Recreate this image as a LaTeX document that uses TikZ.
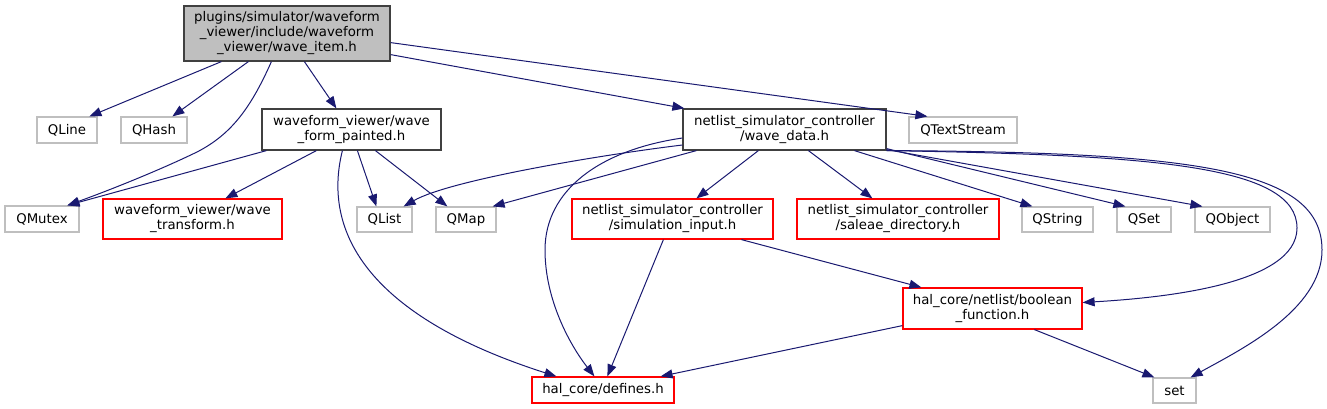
\documentclass[tikz,border=0pt]{standalone}
\usepackage{fontspec}
\setmainfont{DejaVu Sans}
\usetikzlibrary{arrows.meta}
\definecolor{mblue}{RGB}{25,25,112}
\definecolor{lgray}{RGB}{191,191,191}
\definecolor{dgray}{RGB}{64,64,64}
\definecolor{mainfill}{RGB}{191,191,191}
\newcommand\dfont{\fontsize{13.3}{15}\selectfont}
\tikzset{
  box/.style={draw, line width=1.2pt, inner sep=0pt, align=center, font=\dfont, fill=white},
  darkbox/.style={box, draw=dgray},
  graybox/.style={box, draw=lgray},
  redbox/.style={box, draw=red},
  e/.style={draw=mblue, line width=1pt, -{Triangle[length=12pt,width=9pt]}}
}
\begin{document}
\begin{tikzpicture}[x=1pt,y=-1pt]
\useasboundingbox (0,0) rectangle (1327,409);
% nodes
\node[darkbox, fill=mainfill, minimum width=206pt, minimum height=55pt] (main) at (287,33.5)
  {plugins/simulator/waveform\\\_viewer/include/waveform\\\_viewer/wave\_item.h};
\node[graybox, minimum width=60pt, minimum height=26pt] (QLine) at (67,130) {QLine};
\node[graybox, minimum width=66pt, minimum height=26pt] (QHash) at (154,130) {QHash};
\node[darkbox, minimum width=179pt, minimum height=41pt] (painted) at (351.5,129.5) {waveform\_viewer/wave\\\_form\_painted.h};
\node[darkbox, minimum width=203pt, minimum height=41pt] (wd) at (784.5,129.5) {netlist\_simulator\_controller\\/wave\_data.h};
\node[graybox, minimum width=108pt, minimum height=26pt] (QTS) at (963,130) {QTextStream};
\node[graybox, minimum width=74pt, minimum height=26pt] (QMutex) at (42,219) {QMutex};
\node[redbox, minimum width=179pt, minimum height=40pt] (wt) at (192.5,219) {waveform\_viewer/wave\\\_transform.h};
\node[graybox, minimum width=55pt, minimum height=25pt] (QList) at (384.5,219.5) {QList};
\node[graybox, minimum width=60pt, minimum height=25pt] (QMap) at (466,219.5) {QMap};
\node[redbox, minimum width=201pt, minimum height=40pt] (sim) at (672.5,219) {netlist\_simulator\_controller\\/simulation\_input.h};
\node[redbox, minimum width=202pt, minimum height=40pt] (saleae) at (898,219) {netlist\_simulator\_controller\\/saleae\_directory.h};
\node[graybox, minimum width=71pt, minimum height=25pt] (QString) at (1057.5,219.5) {QString};
\node[graybox, minimum width=54pt, minimum height=25pt] (QSet) at (1144,219.5) {QSet};
\node[graybox, minimum width=75pt, minimum height=25pt] (QObject) at (1232.5,219.5) {QObject};
\node[redbox, minimum width=179pt, minimum height=41pt] (boolean) at (992.5,308.5) {hal\_core/netlist/boolean\\\_function.h};
\node[redbox, minimum width=142pt, minimum height=26pt] (defines) at (603,390) {hal\_core/defines.h};
\node[graybox, minimum width=43pt, minimum height=25pt] (set) at (1174.5,390.5) {set};
% edges from main
\draw[e] ([xshift=38pt]main.south west) -- ([xshift=53pt]QLine.north west);
\draw[e] ([xshift=65pt]main.south west) -- ([xshift=52pt]QHash.north west);
\draw[e] ([xshift=88pt]main.south west) .. controls (250,110) and (230,135) .. (197,152)
  .. controls (160,170) and (110,190) .. ([xshift=63pt]QMutex.north west);
\draw[e] ([xshift=121pt]main.south west) -- ([xshift=75pt]painted.north west);
\draw[e] ([yshift=7pt]main.south east) -- ([xshift=2pt]wd.north west);
\draw[e] ([yshift=19pt]main.south east) -- ([xshift=19pt]QTS.north west);
% edges from painted
\draw[e] ([xshift=5pt]painted.south west) -- ([xshift=63pt]QMutex.north west);
\draw[e] ([xshift=55pt]painted.south west) -- ([xshift=123pt]wt.north west);
\draw[e] ([xshift=81pt]painted.south west) .. controls (320,240) and (380,320) .. ([xshift=25pt]defines.north west);
\draw[e] ([xshift=96pt]painted.south west) -- ([xshift=20pt]QList.north west);
\draw[e] ([xshift=114pt]painted.south west) -- ([xshift=12pt]QMap.north west);
% edges from wave_data
\draw[e] ([yshift=-15.5pt]wd.west) .. controls (600,155) and (450,180) .. ([xshift=-9pt]QList.north east);
\draw[e] ([xshift=14pt]wd.south west) -- ([xshift=-4pt]QMap.north east);
\draw[e] ([yshift=-8.5pt]wd.west) .. controls (600,150) and (545,190) .. (545,250)
  .. controls (545,300) and (570,345) .. ([xshift=63pt]defines.north west);
\draw[e] ([xshift=76pt]wd.south west) -- ([xshift=125pt]sim.north west);
\draw[e] ([xshift=126pt]wd.south west) -- ([xshift=76pt]saleae.north west);
\draw[e] ([xshift=172pt]wd.south west) -- ([xshift=11pt]QString.north west);
\draw[e] ([yshift=2pt]wd.south east) -- ([xshift=9pt]QSet.north west);
\draw[e] ([yshift=1pt]wd.south east) -- ([xshift=8pt]QObject.north west);
\draw[e] (wd.south east) .. controls (1150,155) and (1297,165) .. (1297,228)
  .. controls (1297,285) and (1160,298) .. ([yshift=6pt]boolean.east);
\draw[e] (wd.south east) .. controls (1200,152) and (1322,170) .. (1322,250)
  .. controls (1322,310) and (1240,350) .. ([xshift=-6pt]set.north east);
% edges from simulation_input
\draw[e] ([xshift=92pt]sim.south west) -- ([xshift=76pt]defines.north west);
\draw[e] ([xshift=170pt]sim.south west) -- ([xshift=19pt]boolean.north west);
% edges from boolean
\draw[e] ([yshift=4pt]boolean.south west) -- ([xshift=-14pt]defines.north east);
\draw[e] ([xshift=132pt]boolean.south west) -- ([xshift=2pt]set.north west);
\end{tikzpicture}
\end{document}
